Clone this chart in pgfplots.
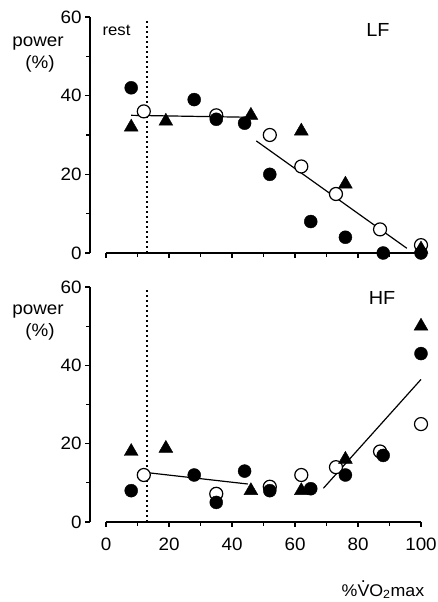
\documentclass[border=0pt]{standalone}
\usepackage{pgfplots}
\pgfplotsset{compat=1.18}
\usepackage{fontspec}
\setmainfont{Liberation Sans}[FakeStretch=1.05]
\newcommand{\Vdot}{\leavevmode\rlap{\hspace{0.19em}\raisebox{0.78em}{.}}V}
\pgfplotsset{
  panel/.style={
    scale only axis, width=331bp, height=236bp,
    xmin=-5.08, xmax=100, ymin=0, ymax=60,
    axis lines*=left, axis line style={-, line width=1.2bp},
    x axis line style={shorten <=16bp},
    xtick={0,20,...,100}, minor xtick={10,30,...,90},
    ytick={0,20,40,60}, minor ytick={10,30,50},
    tick align=outside, major tick length=5bp, minor tick length=4bp,
    tick style={black, line width=1.1bp},
    /pgf/number format/assume math mode=true,
    ticklabel style={font=\fontsize{18}{21}\selectfont},
    clip=false,
  },
  fitline/.style={black, line width=1.2bp, forget plot},
  restline/.style={black, line width=2.5bp, dash pattern=on 2.4bp off 2.6bp},
  opn/.style={only marks, mark=*, mark size=6.5bp, mark options={fill=white, draw=black, line width=1.2bp}},
  fil/.style={only marks, mark=*, mark size=6.5bp, mark options={fill=black, draw=black}},
  tri/.style={only marks, mark=triangle*, mark size=8bp, mark options={fill=black, draw=black}},
}
\begin{document}
\begin{tikzpicture}
\useasboundingbox (0,0) rectangle (438bp,602bp);
% ---------------- LF ----------------
\begin{axis}[panel, at={(90bp,349bp)}, anchor=south west, xticklabels={}]
\addplot[restline] coordinates {(13,0) (13,59.5)};
\addplot[fitline] coordinates {(8,35) (46,34.5)};
\addplot[fitline] coordinates {(47.7,28.5) (95.5,1.2)};
\addplot[opn] coordinates {(12,36) (35,35) (52,30) (62,22) (73,15) (87,6) (100,2)};
\addplot[tri] coordinates {(8,32) (19,33.5) (46,35) (62,31) (76,17.5) (100,1)};
\addplot[fil] coordinates {(8,42) (28,39) (35,34) (44,33) (52,20) (65,8) (76,4) (88,0) (100,0)};
\end{axis}
% ---------------- HF ----------------
\begin{axis}[panel, at={(90bp,80bp)}, anchor=south west, height=235bp,
  xticklabel style={yshift=-7bp}]
\addplot[restline] coordinates {(13,0) (13,59.5)};
\addplot[fitline] coordinates {(12,12.7) (45,9.7)};
\addplot[fitline] coordinates {(69,8.6) (100,36.4)};
\addplot[opn] coordinates {(12,12) (35,7.2) (52,9) (62,12) (73,14) (87,18) (100,25)};
\addplot[tri] coordinates {(8,18) (19,18.8) (46,8) (62,8) (76,16) (100,50)};
\addplot[fil] coordinates {(8,8) (28,12) (35,5) (44,13) (52,8) (65,8.5) (76,12) (88,17) (100,43)};
\end{axis}
% ---------------- texts ----------------
\begin{scope}[every node/.style={inner sep=0pt, anchor=base}]
\node[font=\fontsize{16}{18}\selectfont] at (116.5bp,566bp) {rest};
\node[font=\fontsize{18}{21}\selectfont] at (38bp,555bp) {power};
\node[font=\fontsize{18}{21}\selectfont] at (40bp,533bp) {(\%)};
\node[font=\fontsize{19}{22}\selectfont] at (378bp,565bp) {LF};
\node[font=\fontsize{18}{21}\selectfont] at (38bp,287bp) {power};
\node[font=\fontsize{18}{21}\selectfont] at (40bp,265bp) {(\%)};
\node[font=\fontsize{19}{22}\selectfont] at (382bp,297bp) {HF};
\node[font=\fontsize{17}{20}\selectfont] at (383bp,6bp) {\%\Vdot O\textsubscript{2}max};
\end{scope}
\end{tikzpicture}
\end{document}
